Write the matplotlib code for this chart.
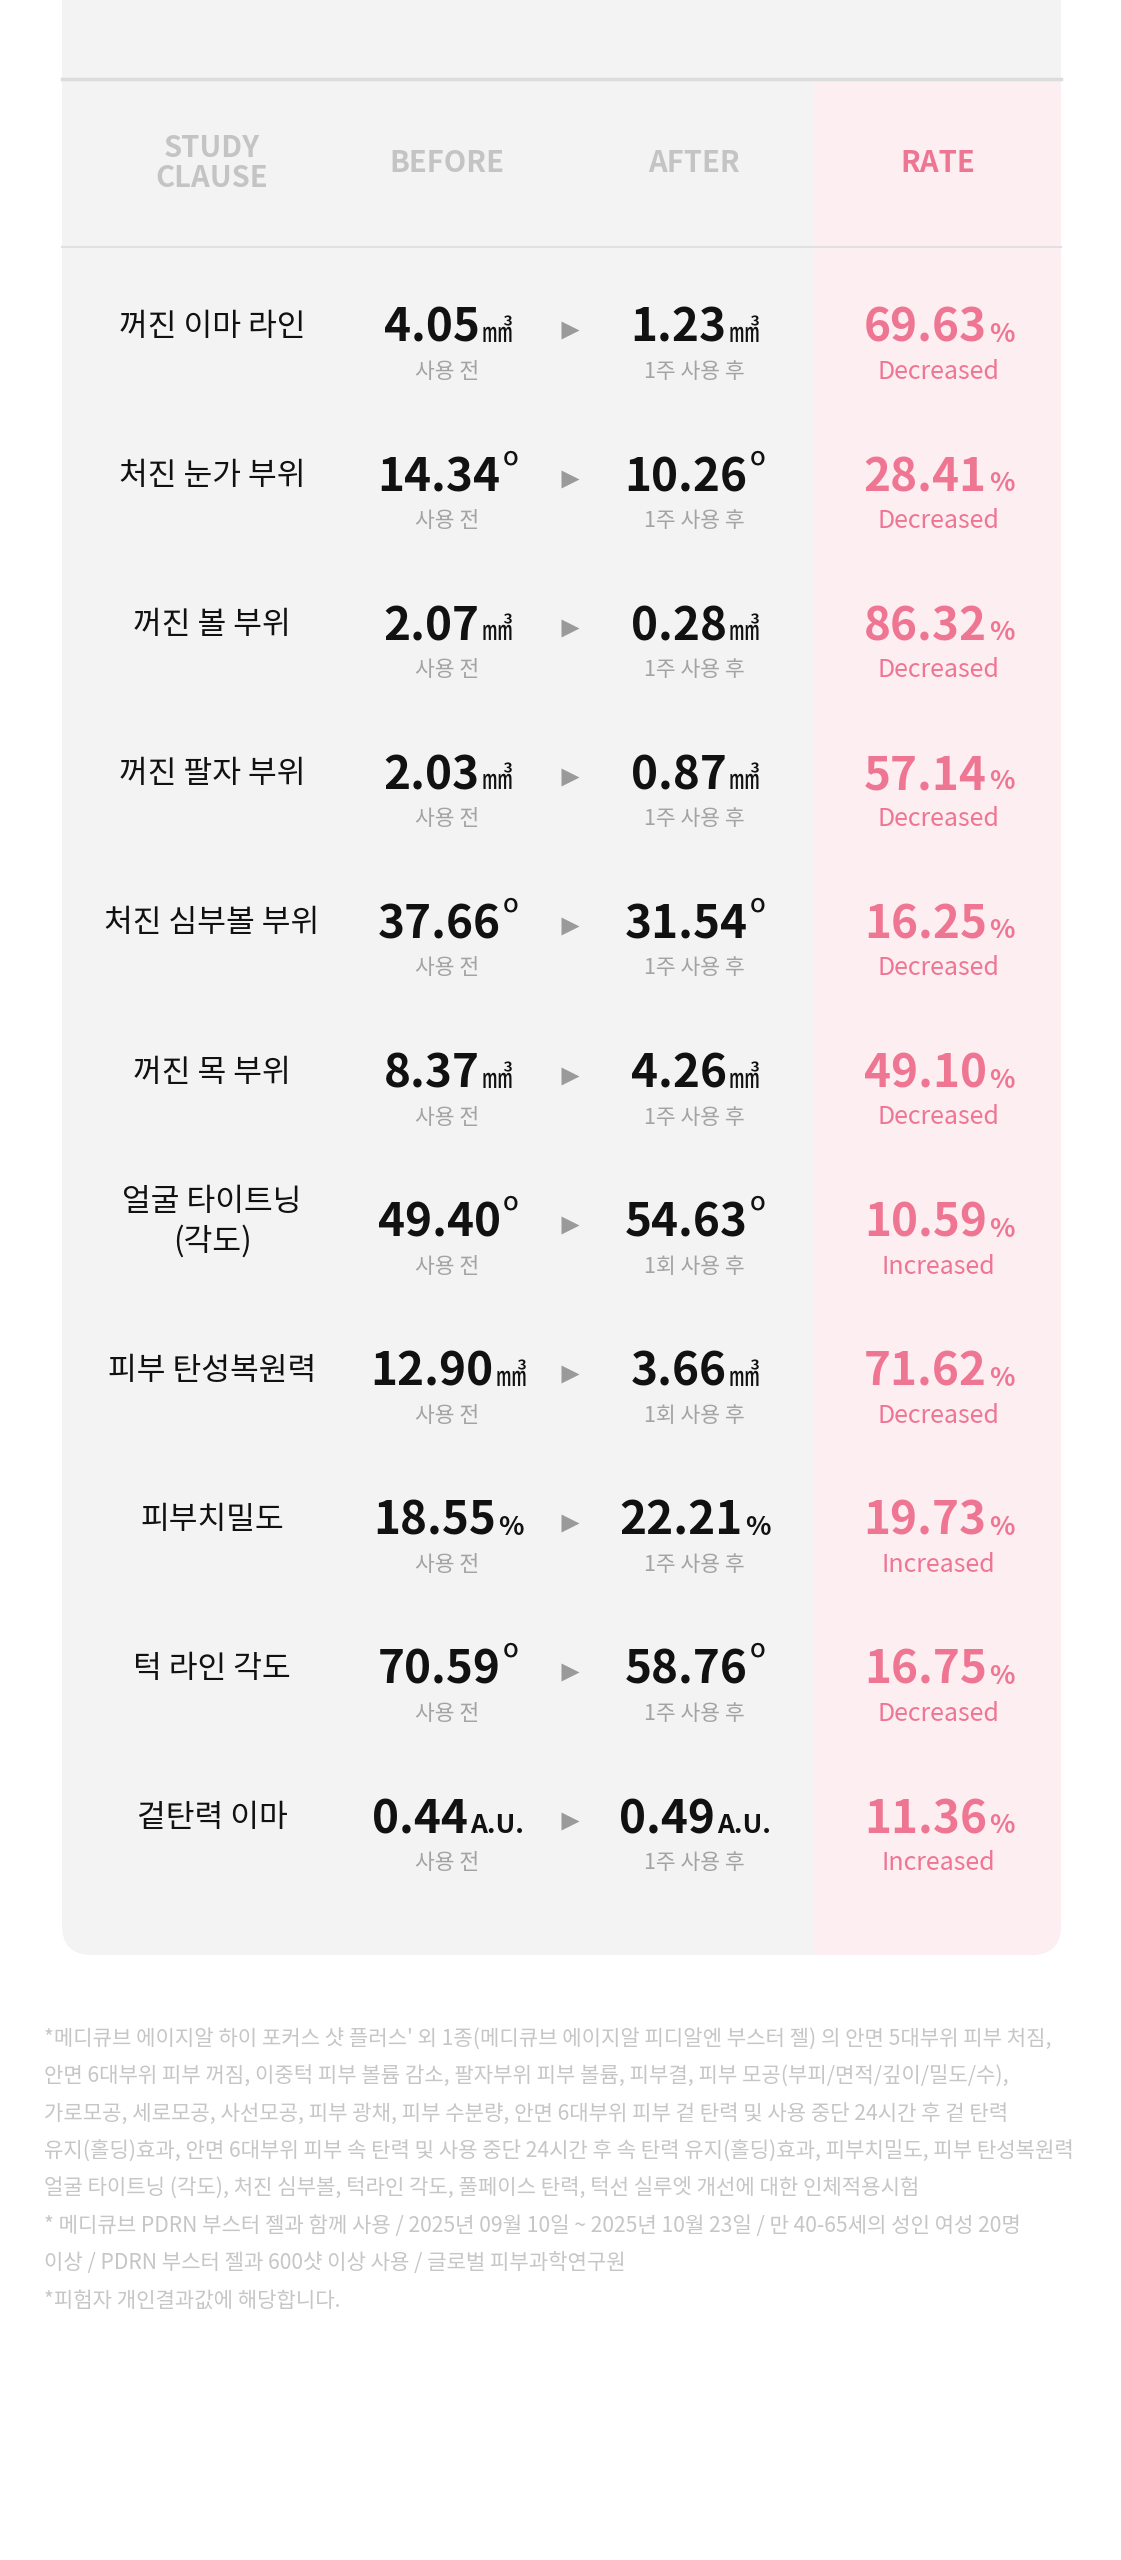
import matplotlib
matplotlib.use("Agg")
import matplotlib.pyplot as plt
from matplotlib.patches import FancyBboxPatch, Rectangle

plt.rcParams['font.family'] = ['Noto Sans CJK KR', 'DejaVu Sans']

clauses = ['꺼진 이마 라인', '처진 눈가 부위', '꺼진 볼 부위', '꺼진 팔자 부위', '처진 심부볼 부위',
           '꺼진 목 부위', '얼굴 타이트닝\n(각도)', '피부 탄성복원력', '피부치밀도', '턱 라인 각도', '겉탄력 이마']
before_vals = ['4.05', '14.34', '2.07', '2.03', '37.66', '8.37', '49.40', '12.90', '18.55', '70.59', '0.44']
after_vals = ['1.23', '10.26', '0.28', '0.87', '31.54', '4.26', '54.63', '3.66', '22.21', '58.76', '0.49']
units = ['㎣', 'º', '㎣', '㎣', 'º', '㎣', 'º', '㎣', '%', 'º', 'A.U.']
after_labels = ['1주 사용 후'] * 6 + ['1회 사용 후', '1회 사용 후', '1주 사용 후', '1주 사용 후', '1주 사용 후']
rates = ['69.63', '28.41', '86.32', '57.14', '16.25', '49.10', '10.59', '71.62', '19.73', '16.75', '11.36']
directions = ['Decreased'] * 6 + ['Increased', 'Decreased', 'Increased', 'Decreased', 'Increased']
headers = ['STUDY\nCLAUSE', 'BEFORE', 'AFTER', 'RATE']
notes = [
    "*메디큐브 에이지알 하이 포커스 샷 플러스' 외 1종(메디큐브 에이지알 피디알엔 부스터 젤) 의 안면 5대부위 피부 처짐,",
    "안면 6대부위 피부 꺼짐, 이중턱 피부 볼륨 감소, 팔자부위 피부 볼륨, 피부결, 피부 모공(부피/면적/깊이/밀도/수),",
    "가로모공, 세로모공, 사선모공, 피부 광채, 피부 수분량, 안면 6대부위 피부 겉 탄력 및 사용 중단 24시간 후 겉 탄력",
    "유지(홀딩)효과, 안면 6대부위 피부 속 탄력 및 사용 중단 24시간 후 속 탄력 유지(홀딩)효과, 피부치밀도, 피부 탄성복원력",
    "얼굴 타이트닝 (각도), 처진 심부볼, 턱라인 각도, 풀페이스 탄력, 턱선 실루엣 개선에 대한 인체적용시험",
    "* 메디큐브 PDRN 부스터 젤과 함께 사용 / 2025년 09월 10일 ~ 2025년 10월 23일 / 만 40-65세의 성인 여성 20명",
    "이상 / PDRN 부스터 젤과 600샷 이상 사용 / 글로벌 피부과학연구원",
    "*피험자 개인결과값에 해당합니다.",
]

GREY_BG = '#f3f3f3'
PINK_BG = '#fdeef2'
PINK = '#ef7693'
SUB = '#a3a3a3'

fig = plt.figure(figsize=(11.21, 25.6), dpi=100)
ax = fig.add_axes([0, 0, 1, 1])
ax.set_xlim(0, 1121)
ax.set_ylim(2560, 0)
ax.axis('off')

panel = FancyBboxPatch((62, -100), 999, 2055, boxstyle='round,pad=0,rounding_size=30',
                       fc=GREY_BG, ec='none')
ax.add_patch(panel)
pink = Rectangle((814, 80), 247, 1900, fc=PINK_BG, ec='none')
ax.add_patch(pink)
pink.set_clip_path(panel)
ax.plot([62, 1061], [79, 79], color='#dcdcdc', lw=2.5)
ax.plot([62, 1061], [247, 247], color='#e0e0e0', lw=1.5)

col_x = [212, 447, 694, 938]
arrow_x = 570
for x, h in zip(col_x, headers):
    ax.text(x, 163, h, ha='center', va='center', fontsize=21, fontweight='bold',
            color=PINK if h == 'RATE' else '#c4c4c4', linespacing=1.0)

fig.canvas.draw()
renderer = fig.canvas.get_renderer()


def value_with_unit(x, y, num, unit, color, unit_size):
    t1 = ax.text(0, y, num, fontsize=33, fontweight='bold', color=color, va='baseline', ha='left')
    t2 = ax.text(0, y, unit, fontsize=unit_size, fontweight='bold' if unit in ('%', 'A.U.') else 'normal',
                 color=color, va='baseline', ha='left')
    if unit == 'º':
        t2.set_y(y - 10)
    w1 = t1.get_window_extent(renderer).width
    w2 = t2.get_window_extent(renderer).width
    left = x - (w1 + w2) / 2
    t1.set_x(left)
    t2.set_x(left + w1 + 2)


row_y0 = 325
row_step = 149.1
for i in range(len(clauses)):
    y = row_y0 + i * row_step
    ax.text(col_x[0], y + 2, clauses[i], ha='center', va='center', fontsize=22.5, color='#111111',
            linespacing=1.25)
    usize = 22 if units[i] == '㎣' else (28 if units[i] == 'º' else 19)
    value_with_unit(col_x[1], y + 17, before_vals[i], units[i], '#111111', usize)
    value_with_unit(col_x[2], y + 17, after_vals[i], units[i], '#111111', usize)
    ax.plot(arrow_x, y + 5, marker='>', markersize=13, color='#9a9a9a', mec='none')
    ax.text(col_x[1], y + 47, '사용 전', ha='center', va='center', fontsize=15.5, color=SUB)
    ax.text(col_x[2], y + 47, after_labels[i], ha='center', va='center', fontsize=15.5, color=SUB)
    value_with_unit(col_x[3], y + 17, rates[i], '%', PINK, 19)
    ax.text(col_x[3], y + 47, directions[i], ha='center', va='center', fontsize=18, color=PINK)

for j, line in enumerate(notes):
    ax.text(44, 2040 + j * 37.2, line, ha='left', va='center', fontsize=15.2, color='#c6c6c6')

fig.savefig('out.png', dpi=100, facecolor='white')
